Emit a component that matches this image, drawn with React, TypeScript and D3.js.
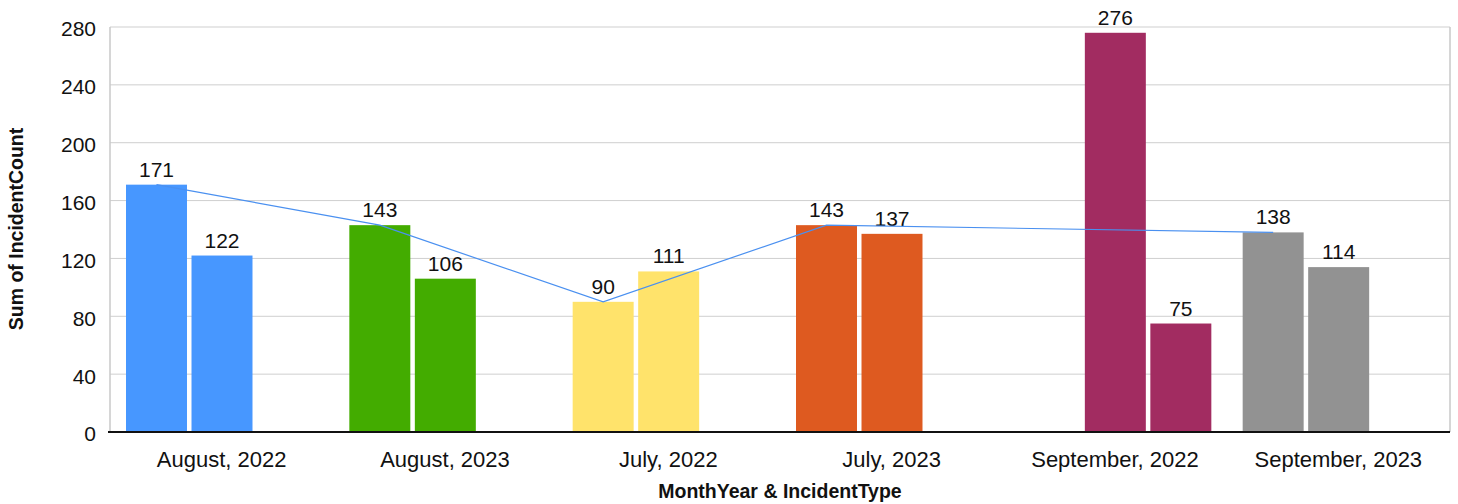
import React from "react";
import * as d3 from "d3";

const months = ["August, 2022", "August, 2023", "July, 2022", "July, 2023", "September, 2022", "September, 2023"];
const types = ["A", "B", "C"];
const typeA: (number | null)[] = [171, 143, 90, 143, null, 138];
const typeB: (number | null)[] = [122, 106, 111, 137, 276, 114];
const typeC: (number | null)[] = [null, null, null, null, 75, null];
const monthColors = ["#4797FF", "#43AC00", "#FFE36B", "#DE5A20", "#A22C61", "#929292"];
const yTicks = [0, 40, 80, 120, 160, 200, 240, 280];

const W = 1458, H = 504;
const left = 110, right = 1450, top = 27, bottom = 432;

export default function App() {
  const x0 = d3.scaleBand<string>().domain(months).range([left, right]).paddingInner(0).paddingOuter(0);
  const x1 = d3.scaleBand<string>().domain(types).range([16, 208]).paddingInner(0.069).paddingOuter(0);
  const y = d3.scaleLinear().domain([0, 280]).range([bottom, top]);
  const series = [typeA, typeB, typeC];
  const font = "'Liberation Sans', Arial, sans-serif";

  const bars: { x: number; v: number; color: string; key: string }[] = [];
  months.forEach((m, i) => {
    types.forEach((t, j) => {
      const v = series[j][i];
      if (v != null) bars.push({ x: (x0(m) as number) + (x1(t) as number), v, color: monthColors[i], key: m + t });
    });
  });

  const linePts: [number, number][] = [];
  months.forEach((m, i) => {
    const v = typeA[i];
    if (v != null) linePts.push([(x0(m) as number) + (x1("A") as number) + x1.bandwidth() / 2, y(v)]);
  });
  const line = d3.line();

  return (
    <svg width={W} height={H} style={{ position: "absolute", left: 0, top: 0, fontFamily: font }}>
      <rect x={0} y={0} width={W} height={H} fill="#fff" />
      {yTicks.map((t) => (
        <g key={t}>
          {t > 0 && <line x1={left} x2={right} y1={y(t)} y2={y(t)} stroke="#cfcfcf" strokeWidth={1} />}
          <text x={96} y={y(t)} dy="0.45em" textAnchor="end" fontSize={21} fill="#111">{t}</text>
        </g>
      ))}
      <line x1={left} x2={left} y1={top} y2={bottom} stroke="#c8c8c8" strokeWidth={1.5} />
      <line x1={right} x2={right} y1={top} y2={bottom} stroke="#c8c8c8" strokeWidth={1.5} />
      {bars.map((b) => (
        <g key={b.key}>
          <rect x={b.x} y={y(b.v)} width={x1.bandwidth()} height={bottom - y(b.v)} fill={b.color} />
          <text x={b.x + x1.bandwidth() / 2} y={y(b.v) - 8} textAnchor="middle" fontSize={21} fill="#111">{b.v}</text>
        </g>
      ))}
      <path d={line(linePts) || ""} fill="none" stroke="#4a90f0" strokeWidth={1.2} />
      <line x1={left - 2} x2={right} y1={bottom} y2={bottom} stroke="#111" strokeWidth={2} />
      {months.map((m) => (
        <text key={m} x={(x0(m) as number) + x0.bandwidth() / 2} y={467} textAnchor="middle" fontSize={22} fill="#111">{m}</text>
      ))}
      <text x={780} y={498} textAnchor="middle" fontSize={19.5} fontWeight="bold" fill="#111">MonthYear &amp; IncidentType</text>
      <text transform={`translate(23,229) rotate(-90)`} textAnchor="middle" fontSize={19.5} fontWeight="bold" fill="#111">Sum of IncidentCount</text>
    </svg>
  );
}
